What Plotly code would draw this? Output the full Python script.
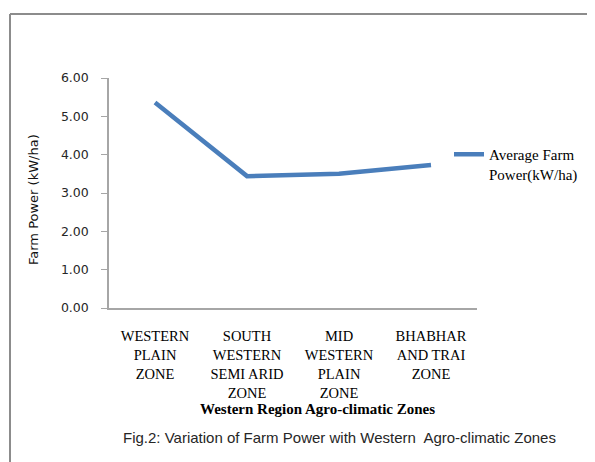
import plotly.graph_objects as go

zones = ["WESTERN<br>PLAIN<br>ZONE", "SOUTH<br>WESTERN<br>SEMI ARID<br>ZONE",
         "MID<br>WESTERN<br>PLAIN<br>ZONE", "BHABHAR<br>AND TRAI<br>ZONE"]
farm_power = [5.36, 3.44, 3.50, 3.73]
y_ticks = [0, 1, 2, 3, 4, 5, 6]
y_tick_text = ["0.00", "1.00", "2.00", "3.00", "4.00", "5.00", "6.00"]

OFF = 8  # page body margin
W, H = 595 - OFF, 462 - OFF
L, R, T, B = 109, 477, 78, 308  # target page pixel positions of plot area

fig = go.Figure()
fig.add_trace(go.Scatter(
    x=list(range(len(zones))), y=farm_power, mode="lines",
    name="Average Farm<br>Power(kW/ha)",
    line=dict(color="#4a7ebb", width=4.5),
))

def px(x):
    return (x - L) / (R - L)

def py(y):
    return (B - y) / (B - T)

gray = "#8c8c8c"
fig.add_shape(type="line", xref="paper", yref="paper", x0=px(10), x1=px(10), y0=py(14), y1=py(470),
              line=dict(color=gray, width=2))
fig.add_shape(type="line", xref="paper", yref="paper", x0=px(10), x1=px(600), y0=py(14), y1=py(14),
              line=dict(color=gray, width=2))

fig.add_annotation(xref="paper", yref="paper", x=px(33), y=py(200), text="Farm Power (kW/ha)",
                   textangle=-90, showarrow=False, xanchor="center", yanchor="middle",
                   font=dict(family="DejaVu Sans", size=13, color="#111111"))
fig.add_annotation(xref="paper", yref="paper", x=px(317), y=py(409), text="<b>Western Region Agro-climatic Zones</b>",
                   showarrow=False, xanchor="center", yanchor="middle",
                   font=dict(family="Liberation Serif", size=15, color="#000000"))
fig.add_annotation(xref="paper", yref="paper", x=px(339), y=py(437),
                   text="Fig.2: Variation of Farm Power with Western  Agro-climatic Zones",
                   showarrow=False, xanchor="center", yanchor="middle",
                   font=dict(family="Liberation Sans", size=15, color="#262626"))

fig.update_layout(
    width=W, height=H,
    margin=dict(l=L - OFF, r=595 - R, t=T - OFF, b=462 - B, pad=0),
    paper_bgcolor="white", plot_bgcolor="white",
    showlegend=True,
    legend=dict(x=px(449), y=py(138), xanchor="left", yanchor="top", valign="top",
                font=dict(family="Liberation Serif", size=15, color="#000000"),
                bgcolor="rgba(0,0,0,0)", tracegroupgap=0),
    xaxis=dict(range=[-0.5, 3.5], tickvals=list(range(len(zones))), ticktext=zones,
               showgrid=False, zeroline=False, showline=True, linecolor="#a6a6a6", linewidth=1.5,
               ticks="", ticklabelstandoff=14,
               tickfont=dict(family="Liberation Serif", size=14.5, color="#000000"),
               fixedrange=True),
    yaxis=dict(range=[0, 6], tickvals=y_ticks, ticktext=y_tick_text,
               showgrid=False, zeroline=False, showline=True, linecolor="#a6a6a6", linewidth=1.5,
               ticks="outside", ticklen=6, tickcolor="#a6a6a6", ticklabelstandoff=10,
               tickfont=dict(family="DejaVu Sans", size=12.5, color="#262626"),
               fixedrange=True),
)

fig.write_html("out.html")
